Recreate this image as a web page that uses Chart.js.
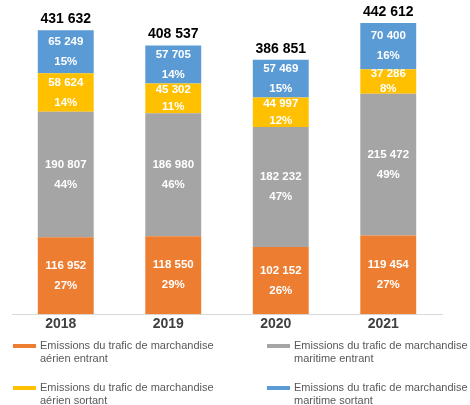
<!DOCTYPE html>
<html>
<head>
<meta charset="utf-8">
<script src="https://cdn.jsdelivr.net/npm/chart.js@4/dist/chart.umd.min.js"></script>
<style>
html,body{margin:0;padding:0;background:#fff;}
canvas{display:block;}
</style>
</head>
<body>
<canvas id="c" width="470" height="405"></canvas>
<script>
const years = ['2018', '2019', '2020', '2021'];
const aerienEntrant = [116952, 118550, 102152, 119454];
const maritimeEntrant = [190807, 186980, 182232, 215472];
const aerienSortant = [58624, 45302, 44997, 37286];
const maritimeSortant = [65249, 57705, 57469, 70400];
const pctAerienEntrant = ['27%', '29%', '26%', '27%'];
const pctMaritimeEntrant = ['44%', '46%', '47%', '49%'];
const pctAerienSortant = ['14%', '11%', '12%', '8%'];
const pctMaritimeSortant = ['15%', '14%', '15%', '16%'];
const totals = [431632, 408537, 386851, 442612];
const seriesLabels = [
  ['Emissions du trafic de marchandise', 'aérien entrant'],
  ['Emissions du trafic de marchandise', 'maritime entrant'],
  ['Emissions du trafic de marchandise', 'aérien sortant'],
  ['Emissions du trafic de marchandise', 'maritime sortant']
];
const colors = ['#ED7D31', '#A5A5A5', '#FFC000', '#5B9BD5'];

const FONT = '"Liberation Sans", Arial, sans-serif';
function fmt(v) { return String(v).replace(/\B(?=(\d{3})+(?!\d))/g, ' '); }

const pcts = [pctAerienEntrant, pctMaritimeEntrant, pctAerienSortant, pctMaritimeSortant];

const labelPlugin = {
  id: 'segLabels',
  afterDatasetsDraw(chart) {
    const ctx = chart.ctx;
    ctx.save();
    ctx.textAlign = 'center';
    ctx.textBaseline = 'middle';
    chart.data.datasets.forEach((ds, i) => {
      const meta = chart.getDatasetMeta(i);
      meta.data.forEach((el, j) => {
        const p = el.getProps(['x', 'y', 'base'], true);
        const cy = (p.y + p.base) / 2;
        const h = Math.abs(p.base - p.y);
        const gap = Math.min(10, h * 0.3);
        ctx.fillStyle = '#ffffff';
        ctx.font = 'bold 11.5px ' + FONT;
        ctx.fillText(fmt(ds.data[j]), p.x, cy - gap);
        ctx.fillText(pcts[i][j], p.x, cy + gap);
      });
    });
    const top = chart.getDatasetMeta(chart.data.datasets.length - 1);
    ctx.fillStyle = '#000000';
    ctx.font = 'bold 14px ' + FONT;
    top.data.forEach((el, j) => {
      const p = el.getProps(['x', 'y'], true);
      ctx.fillText(fmt(totals[j]), p.x, p.y - 11);
    });
    ctx.restore();
  }
};

const legendPlugin = {
  id: 'gridLegend',
  afterDraw(chart) {
    const ctx = chart.ctx;
    const colX = [13, 267];
    const rowY = [346, 388];
    ctx.save();
    ctx.textAlign = 'left';
    ctx.textBaseline = 'middle';
    ctx.font = '11px ' + FONT;
    chart.data.datasets.forEach((ds, i) => {
      const x = colX[i % 2];
      const y = rowY[Math.floor(i / 2)];
      ctx.fillStyle = ds.backgroundColor;
      ctx.fillRect(x, y - 2, 23, 4);
      ctx.fillStyle = '#595959';
      ds.label.forEach((line, k) => {
        ctx.fillText(line, x + 27, y + k * 13);
      });
    });
    ctx.restore();
  }
};

new Chart(document.getElementById('c'), {
  type: 'bar',
  data: {
    labels: years,
    datasets: [
      { label: seriesLabels[0], data: aerienEntrant, backgroundColor: colors[0] },
      { label: seriesLabels[1], data: maritimeEntrant, backgroundColor: colors[1] },
      { label: seriesLabels[2], data: aerienSortant, backgroundColor: colors[2] },
      { label: seriesLabels[3], data: maritimeSortant, backgroundColor: colors[3] }
    ]
  },
  options: {
    responsive: false,
    animation: false,
    layout: { padding: { left: 12, right: 28, top: 5, bottom: 70 } },
    datasets: { bar: { categoryPercentage: 1, barPercentage: 0.52, borderWidth: 0 } },
    plugins: { legend: { display: false }, tooltip: { enabled: false } },
    scales: {
      x: {
        stacked: true,
        grid: { display: false, drawTicks: false },
        border: { display: true, color: '#D9D9D9', width: 1 },
        ticks: { color: '#404040', font: { family: FONT, size: 14, weight: 'bold' }, padding: 2, labelOffset: -5 }
      },
      y: {
        stacked: true,
        display: false,
        min: 0,
        max: 470000
      }
    }
  },
  plugins: [labelPlugin, legendPlugin]
});
</script>
</body>
</html>
